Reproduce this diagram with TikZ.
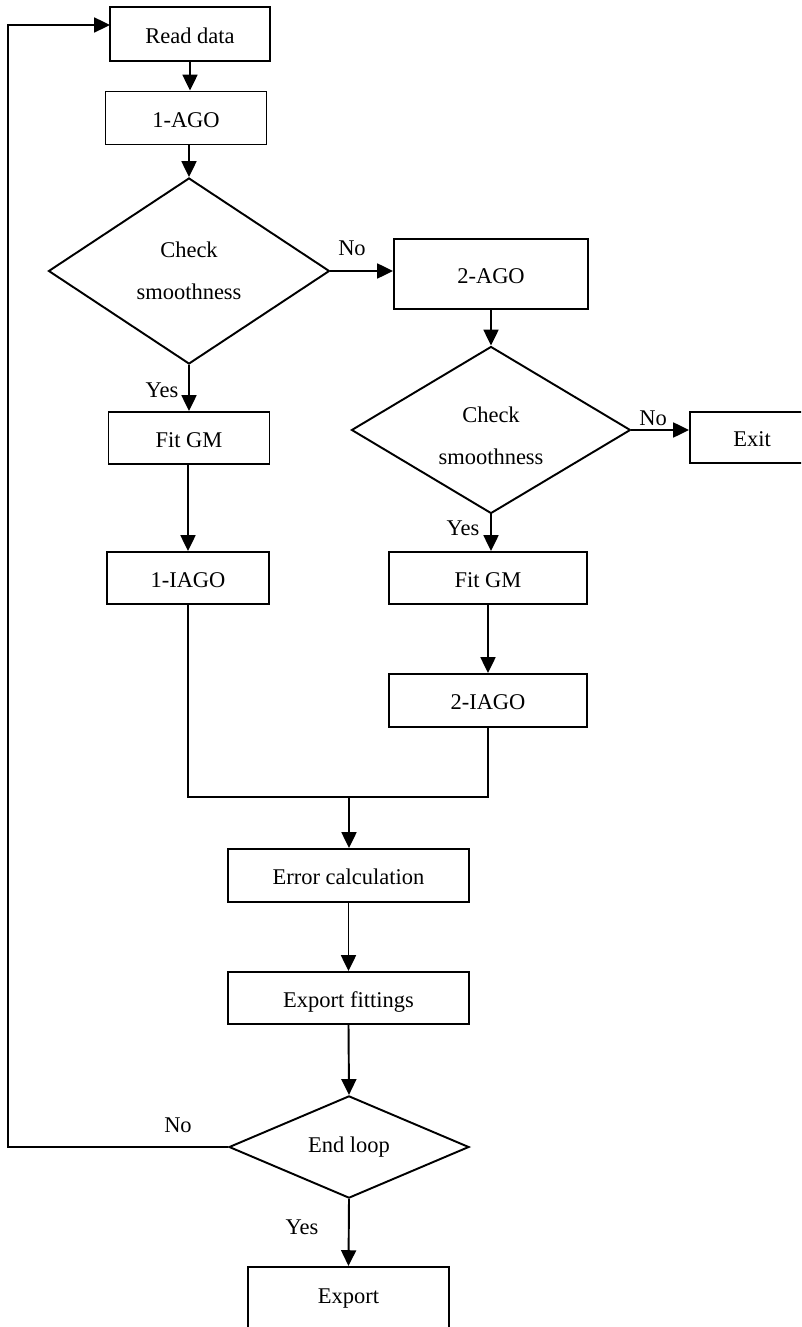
\documentclass[tikz,border=0pt]{standalone}
\usepackage{fontspec}
\setmainfont{Liberation Serif}
\usetikzlibrary{shapes.geometric,arrows.meta,calc}
\begin{document}
\begin{tikzpicture}[x=0.02cm,y=-0.02cm,
  line width=1.1pt,
  every node/.style={font=\fontsize{12.8}{15}\selectfont},
  box/.style={draw,rectangle,inner sep=0pt,line width=1.1pt,text height=1.04em,text depth=0pt},
  plainbox/.style={draw,rectangle,inner sep=0pt,line width=1.1pt},
  dia/.style={draw,diamond,inner sep=0pt,align=center,line width=1.1pt,
    font=\fontsize{12.8}{24}\selectfont},
  lbl/.style={inner sep=0pt},
  arr/.style={-{Triangle[length=9pt,width=8.5pt]}},
  ln/.style={-}]
\useasboundingbox (0,0) rectangle (801,1327);
\fill[white] (0,0) rectangle (801,1327);
\clip (0,0) rectangle (801,1327);

% boxes
\node[box,minimum width=160*0.02cm,minimum height=54*0.02cm] (read) at (190,34) {Read data};
\node[box,minimum width=161*0.02cm,minimum height=53*0.02cm] (ago1) at (186,118) {1-AGO};
\node[dia,minimum width=281*0.02cm,minimum height=186*0.02cm] (d1) at (189,271) {Check\\smoothness};
\node[box,minimum width=194*0.02cm,minimum height=70*0.02cm] (ago2) at (491,274) {2-AGO};
\node[dia,minimum width=279*0.02cm,minimum height=167*0.02cm] (d2) at (491,430) {};
\node[lbl,align=center,font=\fontsize{12.8}{24}\selectfont] (d2t) at (491,436) {Check\\smoothness};
\node[box,minimum width=124*0.02cm,minimum height=51*0.02cm] (exit) at (752,437.5) {Exit};
\node[box,minimum width=161*0.02cm,minimum height=52*0.02cm] (fit1) at (189,438) {Fit GM};
\node[box,minimum width=162*0.02cm,minimum height=52*0.02cm] (iago1) at (188,578) {1-IAGO};
\node[box,minimum width=198*0.02cm,minimum height=52*0.02cm] (fit2) at (488,578) {Fit GM};
\node[box,minimum width=198*0.02cm,minimum height=53*0.02cm] (iago2) at (488,700.5) {2-IAGO};
\node[box,minimum width=241*0.02cm,minimum height=53*0.02cm] (err) at (348.5,875.5) {Error calculation};
\node[box,minimum width=241*0.02cm,minimum height=52*0.02cm] (expf) at (348.5,998) {Export fittings};
\node[dia,minimum width=240*0.02cm,minimum height=102*0.02cm,font=\fontsize{12.8}{15}\selectfont] (d3) at (349,1147) {End loop};
\node[plainbox,minimum width=201*0.02cm,minimum height=64*0.02cm] (export) at (348.5,1299) {Export};

% labels
\node[lbl] (no1) at (352,248) {No};
\node[lbl] (yes1) at (162,390) {Yes};
\node[lbl] (no2) at (653,418) {No};
\node[lbl] (yes2) at (463,528) {Yes};
\node[lbl] (no3) at (178,1125) {No};
\node[lbl] (yes3) at (302,1227) {Yes};

% helper coordinates
\coordinate (merge) at (349,797);
\coordinate (lx) at (8,0);
\coordinate (rin) at (110,25);

% connectors
\draw[arr] (read.south) -- (read.south |- ago1.north);
\draw[arr] (d1.north |- ago1.south) -- (d1.north);
\draw[arr] (d1.east) -- (d1.east -| ago2.west);
\draw[arr] (d1.south) -- (d1.south |- fit1.north);
\draw[arr] (ago2.south -| d2.north) -- (d2.north);
\draw[arr] (d2.east) -- (d2.east -| exit.west);
\draw[arr] (d2.south) -- (d2.south |- fit2.north);
\draw[arr] (fit1.south -| iago1.north) -- (iago1.north);
\draw[arr] (fit2.south) -- (iago2.north);
\draw[ln] (iago1.south) -- (iago1.south |- merge) -- (iago2.south |- merge) -- (iago2.south);
\draw[arr] (merge) -- (merge |- err.north);
\draw[arr] (err.south) -- (expf.north);
\draw[arr] (expf.south) -- (d3.north);
\draw[arr] (d3.south) -- (export.north);
\draw[arr] (d3.west) -- (d3.west -| lx) -- (lx |- rin) -- (rin);
\end{tikzpicture}
\end{document}
